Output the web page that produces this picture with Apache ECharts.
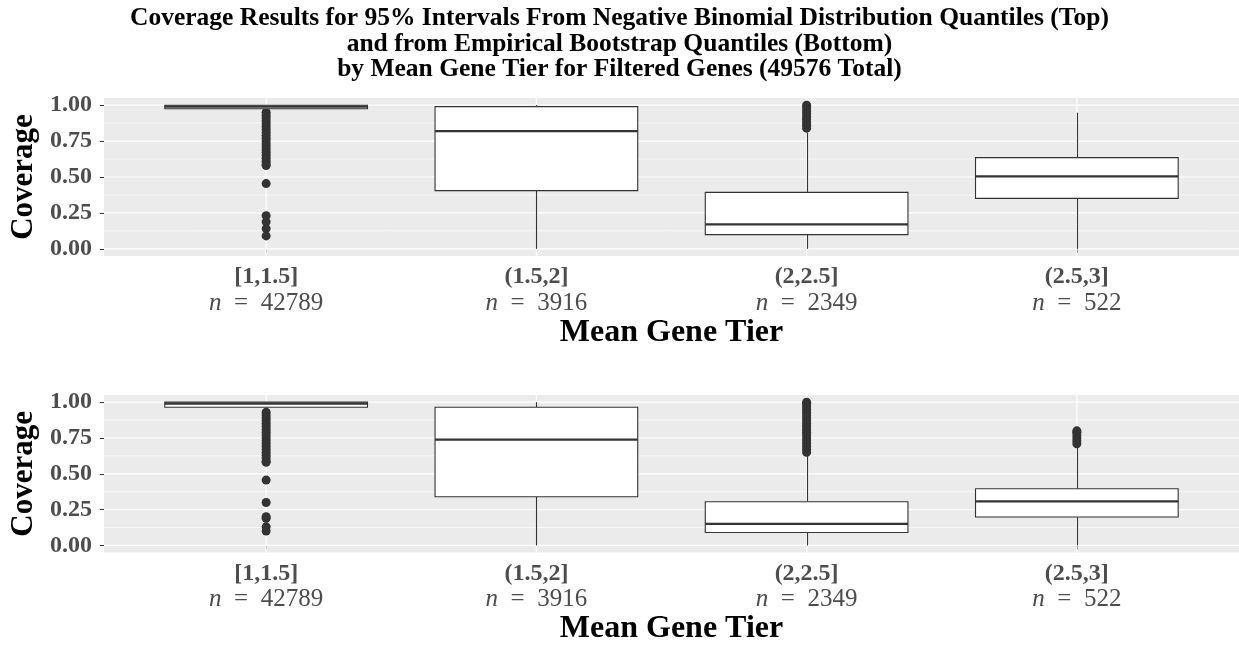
<!DOCTYPE html>
<html><head><meta charset="utf-8">
<script src="https://cdn.jsdelivr.net/npm/echarts@6/dist/echarts.min.js"></script>
<style>html,body{margin:0;padding:0;background:#fff}#c{width:1239px;height:646px}</style>
</head><body><div id="c"></div>
<script>
// ---------- data ----------
const categories = ['[1,1.5]', '(1.5,2]', '(2,2.5]', '(2.5,3]'];
const counts = [42789, 3916, 2349, 522];
const yTicks = [0, 0.25, 0.5, 0.75, 1];
const yMinorTicks = [0.125, 0.375, 0.625, 0.875];
const yTickLabels = ['0.00', '0.25', '0.50', '0.75', '1.00'];
// [lower whisker, Q1, median, Q3, upper whisker] per category
const nbBoxes = [
  [0.96, 0.975, 0.99, 1.0, 1.0],
  [0.0, 0.405, 0.82, 0.99, 1.0],
  [0.0, 0.099, 0.17, 0.393, 0.81],
  [0.0, 0.351, 0.504, 0.635, 0.948]
];
const bootBoxes = [
  [0.94, 0.965, 0.99, 1.0, 1.0],
  [0.0, 0.34, 0.739, 0.965, 1.0],
  [0.0, 0.09, 0.15, 0.305, 0.63],
  [0.0, 0.199, 0.308, 0.396, 0.69]
];
// outliers per category (top: negative binomial quantiles)
const nbOutliersCat1 = [0.95, 0.93, 0.91, 0.89, 0.87, 0.85, 0.83, 0.81, 0.79, 0.77, 0.75, 0.73, 0.71, 0.69, 0.67, 0.65, 0.63, 0.61, 0.59, 0.58, 0.454, 0.231, 0.188, 0.141, 0.09];
const nbOutliersCat2 = [];
const nbOutliersCat3 = [0.84, 0.86, 0.88, 0.9, 0.92, 0.94, 0.96, 0.98, 1.0];
const nbOutliersCat4 = [];
// outliers per category (bottom: empirical bootstrap quantiles)
const bootOutliersCat1 = [0.93, 0.91, 0.89, 0.87, 0.85, 0.83, 0.81, 0.79, 0.77, 0.75, 0.73, 0.71, 0.69, 0.67, 0.65, 0.63, 0.61, 0.59, 0.58, 0.456, 0.30, 0.20, 0.19, 0.13, 0.10];
const bootOutliersCat2 = [];
const bootOutliersCat3 = [0.65, 0.67, 0.69, 0.71, 0.73, 0.75, 0.77, 0.79, 0.81, 0.83, 0.85, 0.87, 0.89, 0.91, 0.93, 0.95, 0.97, 0.99, 1.0];
const bootOutliersCat4 = [0.71, 0.73, 0.75, 0.77, 0.79, 0.80];

// ---------- helpers ----------
const SERIF = '"Liberation Serif", "Times New Roman", serif';
const nbOutliers = [nbOutliersCat1, nbOutliersCat2, nbOutliersCat3, nbOutliersCat4];
const bootOutliers = [bootOutliersCat1, bootOutliersCat2, bootOutliersCat3, bootOutliersCat4];
const catPos = categories.map((c, i) => i + 1);

function boxData(boxes) { return boxes.map((b, i) => [catPos[i]].concat(b)); }
function outlierData(lists) {
  const out = [];
  lists.forEach((l, i) => l.forEach(v => out.push([catPos[i], v])));
  return out;
}
function renderBox(params, api) {
  const x = api.value(0);
  const pMin = api.coord([x, api.value(1)]);
  const pQ1 = api.coord([x, api.value(2)]);
  const pMed = api.coord([x, api.value(3)]);
  const pQ3 = api.coord([x, api.value(4)]);
  const pMax = api.coord([x, api.value(5)]);
  const half = api.size([0.75, 0])[0] / 2;
  const cx = Math.round(pMed[0]) + 0.5;
  return {
    type: 'group', children: [
      { type: 'line', shape: { x1: cx, y1: pMin[1], x2: cx, y2: pQ1[1] }, style: { stroke: '#333', lineWidth: 1.1 } },
      { type: 'line', shape: { x1: cx, y1: pQ3[1], x2: cx, y2: pMax[1] }, style: { stroke: '#333', lineWidth: 1.1 } },
      { type: 'rect', shape: { x: pQ3[0] - half, y: pQ3[1], width: 2 * half, height: pQ1[1] - pQ3[1] }, style: { fill: '#fff', stroke: '#333', lineWidth: 1.1 } },
      { type: 'line', shape: { x1: pMed[0] - half, y1: pMed[1], x2: pMed[0] + half, y2: pMed[1] }, style: { stroke: '#333', lineWidth: 2.2 } }
    ]
  };
}
function renderHGrid(params, api) {
  const cs = params.coordSys;
  const y = api.coord([1, api.value(1)])[1];
  return { type: 'line', shape: { x1: cs.x, y1: y, x2: cs.x + cs.width, y2: y }, style: { stroke: '#fff', lineWidth: api.value(2) ? 1.2 : 0.6 } };
}
function renderVGrid(params, api) {
  const cs = params.coordSys;
  const x = api.coord([api.value(0), 0])[0];
  return { type: 'line', shape: { x1: x, y1: cs.y, x2: x, y2: cs.y + cs.height }, style: { stroke: '#fff', lineWidth: 1.2 } };
}
const hGridData = yTicks.map(v => [1, v, 1]).concat(yMinorTicks.map(v => [1, v, 0]));
const vGridData = catPos.map(x => [x, 0]);

const grids = [
  { left: 100, right: 0, top: 98, height: 158, show: true, backgroundColor: '#EBEBEB', borderWidth: 0 },
  { left: 100, right: 0, top: 395, height: 158, show: true, backgroundColor: '#EBEBEB', borderWidth: 0 }
];
function xAxisFor(i) {
  return {
    gridIndex: i, type: 'value', min: 0.4, max: 4.6,
    axisLine: { show: false }, splitLine: { show: false },
    axisTick: { show: true, customValues: catPos, length: 4, lineStyle: { color: '#333', width: 1 } },
    axisLabel: {
      customValues: catPos, margin: 8, interval: 0,
      formatter: v => '{c|' + categories[Math.round(v) - 1] + '}\n{n|n}{e|  =  ' + counts[Math.round(v) - 1] + '}',
      rich: {
        c: { fontFamily: SERIF, fontWeight: 'bold', fontSize: 24, color: '#4D4D4D', lineHeight: 26 },
        n: { fontFamily: SERIF, fontStyle: 'italic', fontSize: 25, color: '#4D4D4D', lineHeight: 26 },
        e: { fontFamily: SERIF, fontSize: 25, color: '#4D4D4D', lineHeight: 26 }
      }
    },
    name: 'Mean Gene Tier', nameLocation: 'middle', nameGap: 59,
    nameTextStyle: { fontFamily: SERIF, fontWeight: 'bold', fontSize: 32, color: '#000' }
  };
}
function yAxisFor(i) {
  return {
    gridIndex: i, type: 'value', min: -0.05, max: 1.05,
    axisLine: { show: false }, splitLine: { show: false },
    axisTick: { show: true, customValues: yTicks, length: 4, lineStyle: { color: '#333', width: 1 } },
    axisLabel: {
      customValues: yTicks, margin: 12,
      formatter: v => yTickLabels[yTicks.findIndex(t => Math.abs(t - v) < 1e-9)],
      fontFamily: SERIF, fontWeight: 'bold', fontSize: 24, color: '#4D4D4D'
    },
    name: 'Coverage', nameLocation: 'middle', nameRotate: 90, nameGap: 65,
    nameTextStyle: { fontFamily: SERIF, fontWeight: 'bold', fontSize: 31, color: '#000' }
  };
}
function panelSeries(i, boxes, outs) {
  return [
    { type: 'custom', xAxisIndex: i, yAxisIndex: i, renderItem: renderHGrid, data: hGridData, silent: true, z: 1 },
    { type: 'custom', xAxisIndex: i, yAxisIndex: i, renderItem: renderVGrid, data: vGridData, silent: true, z: 1 },
    { type: 'scatter', xAxisIndex: i, yAxisIndex: i, data: outlierData(outs), symbolSize: 9, itemStyle: { color: '#333333', opacity: 1 }, z: 2 },
    { type: 'custom', xAxisIndex: i, yAxisIndex: i, renderItem: renderBox, data: boxData(boxes), z: 3 }
  ];
}

const chart = echarts.init(document.getElementById('c'), null, { renderer: 'canvas' });
chart.setOption({
  animation: false,
  backgroundColor: '#fff',
  title: {
    text: 'Coverage Results for 95% Intervals From Negative Binomial Distribution Quantiles (Top)\nand from Empirical Bootstrap Quantiles (Bottom)\nby Mean Gene Tier for Filtered Genes (49576 Total)',
    left: 'center', top: 1,
    textStyle: { fontFamily: SERIF, fontWeight: 'bold', fontSize: 25.5, lineHeight: 25.5, color: '#000' }
  },
  grid: grids,
  xAxis: [xAxisFor(0), xAxisFor(1)],
  yAxis: [yAxisFor(0), yAxisFor(1)],
  series: panelSeries(0, nbBoxes, nbOutliers).concat(panelSeries(1, bootBoxes, bootOutliers))
});
</script></body></html>
